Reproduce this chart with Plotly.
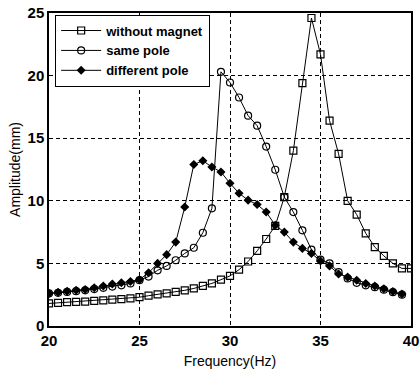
import plotly.graph_objects as go

# without magnet (squares)
freq_a = [20, 20.5, 21, 21.5, 22, 22.5, 23, 23.5, 24, 24.5, 25, 25.5, 26, 26.5, 27, 27.5,
          28, 28.5, 29, 29.5, 30, 30.5, 31, 31.5, 32, 32.5, 33, 33.5, 34, 34.5, 35, 35.5,
          36, 36.5, 37, 37.5, 38, 38.5, 39, 39.5, 40]
amp_a = [1.8, 1.85, 1.9, 1.92, 1.95, 2.0, 2.05, 2.1, 2.15, 2.2, 2.3, 2.42, 2.52, 2.6, 2.72, 2.85,
         3.0, 3.2, 3.4, 3.7, 4.0, 4.5, 5.15, 6.0, 6.95, 8.0, 10.3, 14.0, 19.4, 24.6, 21.7, 16.4,
         13.75, 10.0, 8.9, 7.4, 6.3, 5.6, 5.0, 4.6, 4.6]

# same pole (circles)
freq_b = [20, 20.5, 21, 21.5, 22, 22.5, 23, 23.5, 24, 24.5, 25, 25.5, 26, 26.5, 27, 27.5,
          28, 28.5, 29, 29.5, 30, 30.5, 31, 31.5, 32, 32.5, 33, 33.5, 34, 34.5, 35, 35.5,
          36, 36.5, 37, 37.5, 38, 38.5, 39, 39.5]
amp_b = [2.6, 2.65, 2.72, 2.78, 2.85, 2.95, 3.05, 3.15, 3.25, 3.4, 3.66, 3.95, 4.45, 4.8, 5.25, 5.8,
         6.25, 7.45, 9.4, 20.3, 19.45, 18.25, 16.8, 16.0, 14.33, 12.48, 10.3, 9.1, 7.64, 6.1, 5.3, 5.0,
         4.3, 3.8, 3.45, 3.25, 3.1, 2.9, 2.7, 2.5]

# different pole (filled diamonds)
freq_c = [20, 20.5, 21, 21.5, 22, 22.5, 23, 23.5, 24, 24.5, 25, 25.5, 26, 26.5, 27, 27.5,
          28, 28.5, 29, 29.5, 30, 30.5, 31, 31.5, 32, 32.5, 33, 33.5, 34, 34.5, 35, 35.5,
          36, 36.5, 37, 37.5, 38, 38.5, 39, 39.5]
amp_c = [2.6, 2.7, 2.78, 2.85, 2.92, 3.05, 3.2, 3.35, 3.45, 3.55, 3.7, 4.25, 5.0, 5.7, 6.7, 9.5,
         12.9, 13.2, 12.7, 12.3, 11.4, 10.6, 10.05, 9.7, 9.1, 8.05, 7.5, 6.7, 6.2, 5.8, 5.2, 4.8,
         4.15, 3.9, 3.65, 3.4, 3.2, 2.97, 2.75, 2.55]

x_ticks = [20, 25, 30, 35, 40]
y_ticks = [0, 5, 10, 15, 20, 25]

fig = go.Figure()
fig.add_trace(go.Scatter(x=freq_a, y=amp_a, mode="lines+markers", name="without magnet",
                         line=dict(color="black", width=1),
                         marker=dict(symbol="square-open", size=7, color="black", line=dict(width=1.2))))
fig.add_trace(go.Scatter(x=freq_b, y=amp_b, mode="lines+markers", name="same pole",
                         line=dict(color="black", width=1),
                         marker=dict(symbol="circle-open", size=7, color="black", line=dict(width=1.2))))
fig.add_trace(go.Scatter(x=freq_c, y=amp_c, mode="lines+markers", name="different pole",
                         line=dict(color="black", width=1),
                         marker=dict(symbol="diamond", size=7, color="black")))

axis_common = dict(showline=True, linecolor="black", linewidth=1.5, mirror=True,
                   showgrid=True, gridcolor="black", gridwidth=1, griddash="4px,3px",
                   zeroline=False, ticks="", automargin=False, ticklabeloverflow="allow",
                   tickfont=dict(family="Liberation Sans", size=15, color="black", weight="bold"))

fig.update_xaxes(range=[20, 40], tickvals=x_ticks, **axis_common,
                 title=dict(text="Frequency(Hz)", font=dict(family="Liberation Sans", size=14, color="black"),
                            standoff=8))
fig.update_yaxes(range=[0, 25], tickvals=y_ticks, **axis_common,
                 title=dict(text="Amplitude(mm)", font=dict(family="Liberation Sans", size=14, color="black"),
                            standoff=4))

fig.update_layout(
    width=420, height=380,
    margin=dict(l=49, r=9, t=13, b=54),
    plot_bgcolor="white", paper_bgcolor="white",
    legend=dict(x=0.017, y=0.995, xanchor="left", yanchor="top",
                bgcolor="white", bordercolor="black", borderwidth=1,
                font=dict(family="Liberation Sans", size=13, color="black", weight="bold"),
                tracegroupgap=0, itemwidth=40),
    showlegend=True,
)

fig.write_html("out.html")
